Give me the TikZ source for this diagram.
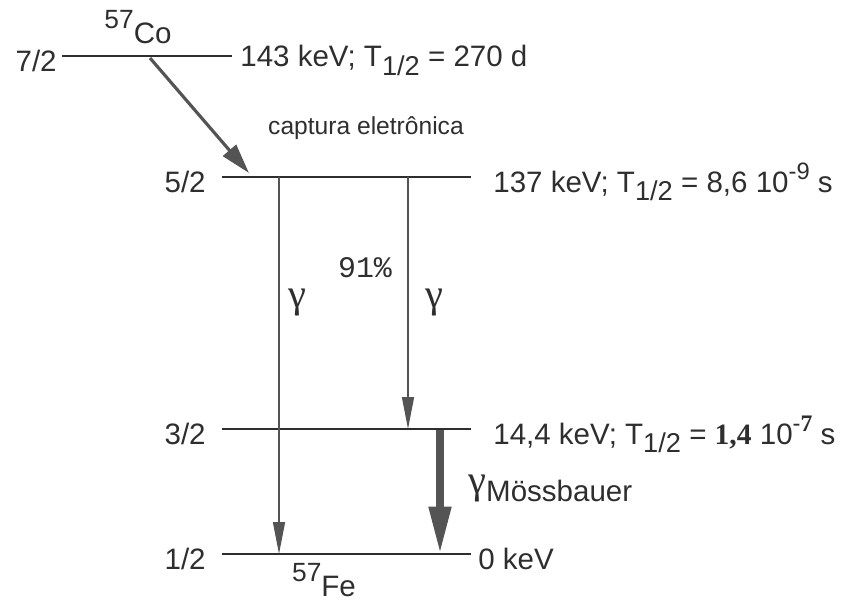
\documentclass[tikz,border=0pt]{standalone}
\usepackage{fontspec}
\setmainfont{Liberation Sans}
\setmonofont{Liberation Mono}
\newfontfamily\timesf{Liberation Serif}
\usepackage{xcolor}
\usetikzlibrary{arrows.meta,positioning,calc}

\definecolor{ink}{gray}{0.18}
\definecolor{arrgray}{gray}{0.33}
\newcommand{\thalf}{T\raisebox{-5pt}{\fontsize{15.5}{15.5}\selectfont 1/2}}
\newcommand{\pw}[1]{\raisebox{7pt}{\fontsize{13.5}{13.5}\selectfont #1}}
\newcommand{\nuc}[2]{\raisebox{9pt}{\fontsize{15}{15}\selectfont #1}#2}
\newcommand{\gsym}{{\timesf\fontsize{23}{23}\selectfont γ}}

\begin{document}
\begin{tikzpicture}[
  every node/.style={font=\fontsize{16.8}{18}\selectfont,text=ink,inner sep=0pt},
  spin/.style={anchor=base east},
  energy/.style={anchor=base west},
  level/.style={draw=ink,line width=1.1pt},
  gam/.style={draw=arrgray,line width=0.9pt,-{Triangle[length=6.4mm,width=2.4mm]}},
  gmoss/.style={draw=arrgray,line width=4.5pt,-{Triangle[length=9.5mm,width=4.2mm]}},
  capt/.style={draw=arrgray,line width=1.8pt,-{Triangle[length=6mm,width=3.4mm]}}
]
\useasboundingbox (0,0) rectangle (17.22,-12.06);

% level lines
\coordinate (l72a) at (1.24,-1.12);  \coordinate (l72b) at (4.64,-1.12);
\coordinate (l52a) at (4.44,-3.54);  \coordinate (l52b) at (9.42,-3.54);
\coordinate (l32a) at (4.44,-8.58);  \coordinate (l32b) at (9.42,-8.58);
\coordinate (l12a) at (4.44,-11.08); \coordinate (l12b) at (9.42,-11.08);
\draw[level] (l72a) -- (l72b);
\draw[level] (l52a) -- (l52b);
\draw[level] (l32a) -- (l32b);
\draw[level] (l12a) -- (l12b);

% spins
\node[spin] (s72) at (1.14,-1.42) {7/2};
\node[spin] (s52) at (4.12,-3.84) {5/2};
\node[spin] (s32) at (4.12,-8.88) {3/2};
\node[spin] (s12) at (4.12,-11.38) {1/2};

% energies
\node[energy] (e72) at (4.80,-1.33) {143 keV; \thalf\ = 270 d};
\node[energy] (e52) at (9.86,-3.84) {137 keV; \thalf\ = 8,6 10\pw{-9} s};
\node[energy] (e32) at (9.86,-8.88) {14,4 keV; \thalf\ = {\timesf\bfseries 1,4} 10\pw{-{\timesf\bfseries 7}} s};
\node[energy] (e12) at (9.56,-11.38) {0 keV};

% nuclei
\node (co) at (2.76,-0.54) {\nuc{57}{Co}};
\node (fe) at (6.48,-11.60) {\nuc{57}{Fe}};

% transitions
\coordinate (c0) at (3.00,-1.16);  \coordinate (c1) at (4.98,-3.46);
\coordinate (g1a) at (5.58,-3.54); \coordinate (g1b) at (5.58,-11.08);
\coordinate (g2a) at (8.16,-3.54); \coordinate (g2b) at (8.16,-8.58);
\coordinate (g3a) at (8.80,-8.60); \coordinate (g3b) at (8.80,-11.08);
\draw[capt] (c0) -- (c1);
\draw[gam] (g1a) -- (g1b);
\draw[gam] (g2a) -- (g2b);
\draw[gmoss] (g3a) -- (g3b);

% labels
\node[font=\fontsize{14}{15}\selectfont] (cap) at (7.32,-2.56) {captura eletrônica};
\node (gl) at (5.94,-6.06) {\gsym};
\node (gr) at (8.68,-6.06) {\gsym};
\node[font=\fontsize{17}{17}\selectfont\ttfamily] (pct) at (7.30,-5.36) {91\%};
\node[anchor=west] (mos) at (9.36,-9.78) {\gsym\raisebox{-4pt}{Mössbauer}};
\end{tikzpicture}
\end{document}
